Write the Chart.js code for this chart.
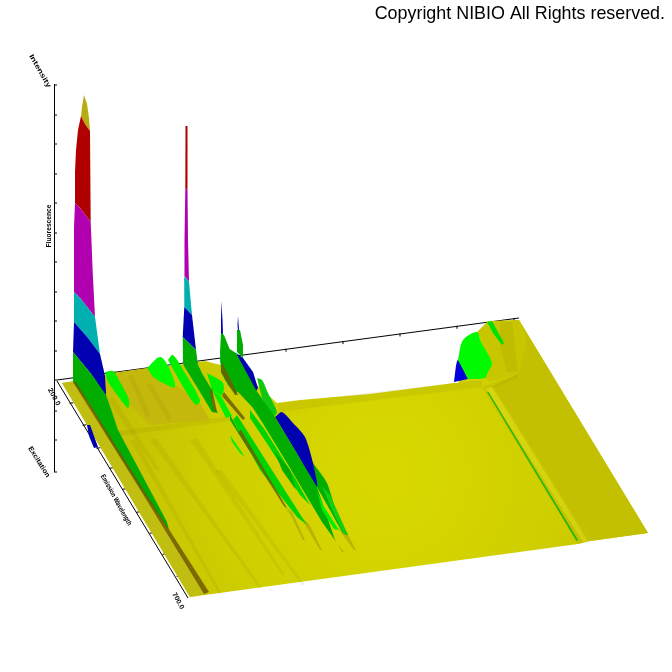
<!DOCTYPE html>
<html>
<head>
<meta charset="utf-8">
<style>html,body{margin:0;padding:0;background:#fff}canvas{display:block}</style>
<script src="https://cdn.jsdelivr.net/npm/chart.js@4"></script>
</head>
<body>
<canvas id="surfaceChart" width="672" height="672"></canvas>
<script>
// values, in projected plot units
const zAxis = [[54.5,84],[54.5,472]];
const backAxis = [[57,380],[519,318]];
const leftAxis = [[57,381],[188,598]];
const zTicks = [85,115,144,174,203,233,262,292,321,351,380,411,440,472];
const leftTicksX = [70,83,97,110,123,137,150,163,177];
const leftTicksY = [403,425,448,468,489,512,533,554,576];
const backTicksX = [115,172,229,286,343,400,457,514];

const floor = [[62,383],[74,381],[105,375],[205,361],[240,370],[277,403],[300,400],[370,394],[454,383],[458,383],[488,322],[519,320],[648,533],[590,541],[578,544],[190,597]];
const leftStrip = [[62,383],[73,382],[207,594],[190,597]];
const leftRidge = [[73,382],[76,382],[140,484],[209,592],[204,594],[138,486]];
const rightStrip = [[493,386],[518,374],[526,340],[519,320],[648,533],[590,541]];
const crossRidgeA = [[118,431],[233,416],[236,420],[120,436]];
const crossRidgeB = [[278,403],[482,380],[482,387],[278,412]];
const crossRidgeC = [[482,387],[518,374],[518,378],[493,388]];
const rightRidge = [[482,387],[493,386],[590,542],[578,544]];
const rightGlow = [[486,388],[492,387],[588,541],[583,542]];
const greenLine = [[487,392],[488.5,392],[578,540],[576.5,541]];
const streakFloor1 = [[130,440],[136,440],[222,594],[219,594]];
const streakFloor2 = [[150,440],[156,438],[262,588],[259,588]];
const streakFloor3 = [[190,440],[197,438],[285,575],[282,575]];
const streakFloor4 = [[215,470],[222,470],[305,585],[302,585]];
const streakFloor5 = [[108,400],[114,398],[160,470],[156,470]];
const shadowTip1 = [[287,508],[292,512],[305,540],[303,540]];
const shadowTip2 = [[300,516],[309,524],[322,550],[320,550]];
const shadowTip3 = [[323,518],[333,538],[344,552],[342,552]];
const shadowTip4 = [[338,528],[348,535],[356,550],[354,550]];

const backGold = [[112,373],[147,368],[170,382],[198,400],[210,420],[150,425],[130,405]];
const backShade1 = [[128,376],[133,375],[150,415],[146,417]];
const backShade2 = [[146,384],[152,384],[172,418],[168,420]];

const blobLeft = [[105,372],[113,371],[120,382],[129,400],[128,408],[118,396],[108,382]];
const blobA = [[147,368],[160,357],[168,366],[175,387],[163,383],[153,377]];
const blobB = [[168,360],[173,355],[185,373],[200,400],[196,405],[183,387]];
const blobC = [[207,373],[223,383],[222,395],[212,390]];
const blobD = [[212,390],[221,396],[232,416],[226,418]];

const spike1Tip = [[84,95],[87,104],[89,118],[90,131],[85,124],[81,116],[82,107]];
const spike1Red = [[81,116],[85,124],[90,131],[90.7,222],[80,208],[75,203],[75,172],[76,150],[78,130]];
const spike1Magenta = [[75,203],[80,208],[90.7,222],[92.7,272],[95,317],[80,298],[74,292],[74,228]];
const spike1Cyan = [[74,292],[80,298],[95,317],[100,354],[88,338],[74,322]];
const spike1Blue = [[74,322],[88,338],[100,354],[105,376],[106,395],[92,375],[73,352]];
const spike1Green = [[73,352],[92,375],[106,395],[112,412],[118,430],[167,522],[169,530],[140,488],[110,440],[90,405],[73,382]];
const sideBlueTop = [[90,370],[103,368],[106,395],[100,387]];
const sideBlue = [[87,425],[90,425],[98,447],[94,448],[89,436]];

const spike2Red = [[185.5,126],[187.5,126],[187.5,188],[185.3,190]];
const spike2Magenta = [[185.3,190],[187.5,188],[188,240],[189,282],[184,275],[184.5,240]];
const spike2Cyan = [[184.2,276],[189,282],[192,315],[184.3,307]];
const spike2Blue = [[184.3,307],[192,315],[196,350],[182.7,337]];
const spike2Green = [[182.7,337],[196,350],[198,365],[203,375],[212,390],[213,405],[218,413],[212,412],[200,392],[184,366],[183,362]];

const spike3Blue = [[221.3,301],[222.5,320],[223,335],[221,336],[221,320]];
const spike3Green = [[221,333],[224,335],[230,350],[237,360],[241,378],[236,395],[228,385],[221,372],[220,352]];
const spike4Blue = [[238,316],[239,330],[238,331],[237.5,325]];
const spike4Green = [[237,330],[240,330],[243,345],[243,358],[237,352]];
const ridgeBlue = [[236,353],[243,358],[253,372],[258,388],[256,391],[246,375]];
const massGreen = [[223,345],[236,353],[256,390],[275,417],[317,487],[335,540],[322,522],[287,463],[262,422],[253,408],[240,394],[225,380],[220,360]];
const massBackGreen = [[257,378],[262,380],[268,393],[277,412],[273,416],[262,398]];
const bigBlue = [[275,417],[282,412],[293,423],[305,437],[313,463],[317,487],[296,452]];
const massRightGreen = [[313,463],[327,483],[338,517],[348,535],[343,533],[330,510],[317,487]];
const massRightLight = [[322,486],[330,495],[348,535],[343,533],[332,510]];
const massTipLight = [[317,490],[323,505],[339,530],[334,529],[322,510]];

const streakA = [[230,415],[237,428],[263,473],[290,515],[287,510],[257,463],[230,420]];
const streakB = [[237,415],[270,467],[307,525],[297,517],[260,470],[233,420]];
const streakC = [[230,435],[245,457],[240,453],[232,442]];
const streakD = [[250,410],[265,430],[295,478],[310,505],[300,495],[268,445],[250,418]];
const streakE = [[275,452],[290,470],[296,490],[282,470]];
const shadowA = [[222,362],[238,395],[235,395],[221,372]];
const shadowB = [[212,388],[217,412],[214,410],[210,392]];
const shadowC = [[224,392],[245,418],[243,420],[222,396]];
const shadowD = [[241,430],[287,508],[284,506],[238,432]];

const blobRightBlue = [[454,382],[458,360],[468,379]];
const blobRight = [[458,360],[463,340],[477,332],[481,342],[492,363],[488,372],[485,378],[468,379]];
const blobRightYellow = [[477,332],[488,321],[519,320],[526,345],[518,374],[490,382],[485,378],[488,372],[492,363]];
const blobRightShade = [[500,322],[512,322],[518,372],[507,372],[500,345]];
const blobRightGreen = [[487,322],[492,321],[504,343],[502,345],[493,333]];

const labelText = ["Intensity","Fluorescence","Excitation","Emission Wavelength","200.0","700.0"];
const labelX = [40,49,39,116,54,178];
const labelY = [71,226,462,500,397,601];
const labelAngle = [60,-90,58,61,62,61];
const labelLength = [37,43,35,57,19,18];

const canvas = document.getElementById('surfaceChart');
const ctx = canvas.getContext('2d');
const floorFill = ctx.createRadialGradient(385,475,20,385,475,300);
floorFill.addColorStop(0,'#d8d800');
floorFill.addColorStop(0.55,'#cfce00');
floorFill.addColorStop(1,'#c0be05');

const dark = 'rgba(110,90,0,0.85)', soft = 'rgba(130,120,0,0.11)', mid = 'rgba(120,105,0,0.3)', lite = 'rgba(235,235,40,0.4)';
const green = '#00ad00', light = '#00f000', soft_green = '#00d400', blue = '#0000b0', bright = '#0000d8';
// painter's order: back to front, third entry is curve tension for rounded shapes
const layers = [
    [floor,floorFill],[leftStrip,'#c0be10'],[rightStrip,'#c2c000'],
    [crossRidgeA,soft],[crossRidgeB,soft],[crossRidgeC,soft],[rightRidge,soft],[rightGlow,lite],[greenLine,'#20b800'],
    [streakFloor1,soft],[streakFloor2,soft],[streakFloor3,soft],[streakFloor4,soft],[streakFloor5,soft],
    [shadowTip1,mid],[shadowTip2,mid],[shadowTip3,mid],[shadowTip4,mid],
    [backGold,'#c4b80c'],[backShade1,soft],[backShade2,soft],
    [blobRightBlue,bright,0.3],[blobRightYellow,'#c8c600'],[blobRightShade,soft],[blobRight,'#00fa00',0.3],[blobRightGreen,'#00e000'],
    [sideBlueTop,blue],[sideBlue,blue],
    [spike1Tip,'#b8ac10'],[spike1Red,'#b00000'],[spike1Magenta,'#b000b0'],[spike1Cyan,'#00b0b0'],[spike1Blue,blue],
    [spike1Green,green],[leftRidge,dark],
    [blobLeft,light,0.3],[blobA,'#00fa00',0.35],[blobB,light,0.3],
    [spike3Blue,blue],[spike4Blue,blue],[spike4Green,green],[ridgeBlue,blue],
    [spike2Red,'#b00000'],[spike2Magenta,'#b000b0'],[spike2Cyan,'#00b0b0'],[spike2Blue,blue],[spike2Green,green],
    [blobC,light,0.3],[blobD,light],
    [massBackGreen,'#10c810',0.3],[massRightGreen,green,0.2],[massRightLight,'#10d010'],
    [bigBlue,blue,0.25],[spike3Green,green],[massGreen,green],[massTipLight,light],
    [streakA,green],[streakB,soft_green],[streakC,light],[streakD,soft_green],[streakE,green],
    [shadowA,dark],[shadowB,dark],[shadowC,dark],[shadowD,dark]
];

const toPoints = pts => pts.map(p => ({x:p[0],y:p[1]}));

function lineSet(pts) {
    return {data:toPoints(pts),showLine:true,fill:false,borderColor:'#000',borderWidth:1,pointRadius:0};
}
function tickSet(xs,ys,rotation,radius) {
    return {data:xs.map((x,i) => ({x:x,y:ys[i]})),showLine:false,pointStyle:'line',pointRadius:radius,
        pointRotation:rotation,pointBorderColor:'#000',pointBorderWidth:1};
}

const datasets = [
    lineSet(zAxis),lineSet(backAxis),lineSet(leftAxis),
    tickSet(zTicks.map(() => 55.5),zTicks,0,1.5),
    tickSet(leftTicksX.map(x => x+1.5),leftTicksY,-8,2),
    tickSet(backTicksX,backTicksX.map(x => 381-(x-57)*62/462),90,1.5)
];
layers.forEach(l => datasets.push({
    data:toPoints(l[0]),showLine:true,fill:'shape',backgroundColor:l[1],borderWidth:0,pointRadius:0,tension:l[2] || 0
}));
// first dataset is painted last by Chart.js, so number them back to front
datasets.forEach((d,i) => { d.order = datasets.length-i; });

// small rotated axis captions and the copyright line
const captions = {
    id:'captions',
    afterDraw(chart) {
        const c = chart.ctx, sx = chart.scales.x, sy = chart.scales.y;
        c.save();
        c.fillStyle = '#000';
        c.font = 'bold 7px "Liberation Sans"';
        labelText.forEach((t,i) => {
            c.save();
            c.translate(sx.getPixelForValue(labelX[i]),sy.getPixelForValue(labelY[i]));
            c.rotate(labelAngle[i]*Math.PI/180);
            c.scale(labelLength[i]/c.measureText(t).width,1);
            c.textAlign = 'center';
            c.textBaseline = 'middle';
            c.fillText(t,0,0);
            c.restore();
        });
        c.font = '17.9px "Liberation Sans"';
        c.textAlign = 'right';
        c.textBaseline = 'alphabetic';
        c.fillText('Copyright NIBIO All Rights reserved.',sx.getPixelForValue(665),sy.getPixelForValue(19));
        c.restore();
    }
};

new Chart(ctx, {
    type:'scatter',
    data:{datasets:datasets},
    plugins:[captions],
    options:{
        responsive:false,
        animation:false,
        layout:{padding:0,autoPadding:false},
        plugins:{legend:{display:false},tooltip:{enabled:false},title:{display:false}},
        scales:{
            x:{type:'linear',min:0,max:672,display:false},
            y:{type:'linear',min:0,max:672,reverse:true,display:false}
        }
    }
});
</script>
</body>
</html>
